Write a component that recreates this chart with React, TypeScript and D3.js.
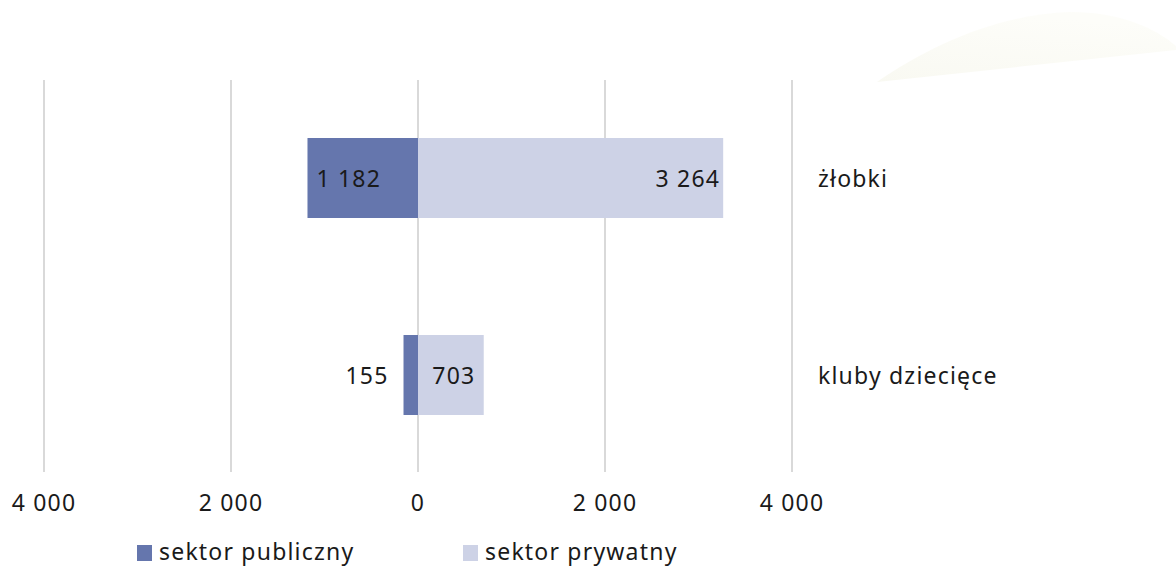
import React, { useRef, useEffect } from "react";
import * as d3 from "d3";

const categories = ["żłobki", "kluby dziecięce"];
const seriesNames = ["sektor publiczny", "sektor prywatny"];
const publicValues = [1182, 155];
const privateValues = [3264, 703];
const tickValues = [-4000, -2000, 0, 2000, 4000];
// where each value label sits relative to its bar
const publicLabelPos = ["insideEnd", "outsideEnd"];
const privateLabelPos = ["insideEnd", "center"];

const colors = ["#6576ad", "#cdd2e6"];
const FONT = "'Noto Sans', sans-serif";

export default function App() {
  const svgRef = useRef<SVGSVGElement>(null);

  useEffect(() => {
    const w = 1176;
    const h = 567;
    const svg = d3.select(svgRef.current).attr("width", w).attr("height", h);
    svg.selectAll("*").remove();

    // faint decorative leaf in the corner
    const grad = svg
      .append("defs")
      .append("linearGradient")
      .attr("id", "leaf")
      .attr("x1", 0)
      .attr("y1", 1)
      .attr("x2", 0.3)
      .attr("y2", 0);
    grad.append("stop").attr("offset", 0).attr("stop-color", "#f9f9f2");
    grad.append("stop").attr("offset", 1).attr("stop-color", "#fdfdf9");
    svg
      .append("path")
      .attr("d", "M877,82 C930,45 1000,14 1070,12 C1120,12 1155,28 1176,46 L1176,50 Z")
      .attr("fill", "url(#leaf)");

    const x = d3.scaleLinear().domain([-4000, 4000]).range([44, 792]);
    const y = d3
      .scaleBand()
      .domain(categories)
      .range([79.5, 473.5])
      .paddingInner(0.594)
      .paddingOuter(0.297);

    const fmt = d3.formatLocale({ thousands: " ", grouping: [3], decimal: ",", currency: ["", ""] }).format(",");

    const labelAttrs = (sel: any) =>
      sel
        .attr("dominant-baseline", "central")
        .attr("font-family", FONT)
        .attr("font-size", 23)
        .attr("letter-spacing", 1.2)
        .attr("fill", "#1a1a1a");

    // gridlines
    svg
      .append("g")
      .selectAll("line")
      .data(tickValues)
      .join("line")
      .attr("x1", (d) => x(d))
      .attr("x2", (d) => x(d))
      .attr("y1", 80)
      .attr("y2", 472)
      .attr("stroke", "#d9d9d9")
      .attr("stroke-width", 2);

    // tick labels
    svg
      .append("g")
      .selectAll("text")
      .data(tickValues)
      .join("text")
      .attr("x", (d) => x(d))
      .attr("y", 502)
      .attr("text-anchor", "middle")
      .call(labelAttrs)
      .text((d) => fmt(Math.abs(d)));

    const bw = y.bandwidth();

    // public sector bars (to the left)
    svg
      .append("g")
      .selectAll("rect")
      .data(categories)
      .join("rect")
      .attr("x", (d, i) => x(-publicValues[i]))
      .attr("y", (d) => y(d)!)
      .attr("width", (d, i) => x(0) - x(-publicValues[i]))
      .attr("height", bw)
      .attr("fill", colors[0]);

    // private sector bars (to the right)
    svg
      .append("g")
      .selectAll("rect")
      .data(categories)
      .join("rect")
      .attr("x", x(0))
      .attr("y", (d) => y(d)!)
      .attr("width", (d, i) => x(privateValues[i]) - x(0))
      .attr("height", bw)
      .attr("fill", colors[1]);

    svg
      .append("g")
      .selectAll("text")
      .data(categories)
      .join("text")
      .attr("x", (d, i) => {
        const end = x(-publicValues[i]);
        return publicLabelPos[i] === "insideEnd" ? end + 9 : end - 15;
      })
      .attr("y", (d) => y(d)! + bw / 2)
      .attr("text-anchor", (d, i) => (publicLabelPos[i] === "insideEnd" ? "start" : "end"))
      .call(labelAttrs)
      .text((d, i) => fmt(publicValues[i]));

    svg
      .append("g")
      .selectAll("text")
      .data(categories)
      .join("text")
      .attr("x", (d, i) => {
        const end = x(privateValues[i]);
        return privateLabelPos[i] === "insideEnd" ? end - 3 : (x(0) + end) / 2 + 3;
      })
      .attr("y", (d) => y(d)! + bw / 2)
      .attr("text-anchor", (d, i) => (privateLabelPos[i] === "insideEnd" ? "end" : "middle"))
      .call(labelAttrs)
      .text((d, i) => fmt(privateValues[i]));

    // category names on the right
    svg
      .append("g")
      .selectAll("text")
      .data(categories)
      .join("text")
      .attr("x", 818)
      .attr("y", (d) => y(d)! + bw / 2)
      .call(labelAttrs)
      .text((d) => d);

    // legend
    const legendX = [137, 463];
    const legend = svg
      .append("g")
      .selectAll("g")
      .data(seriesNames)
      .join("g")
      .attr("transform", (d, i) => `translate(${legendX[i]}, 551)`);
    legend
      .append("rect")
      .attr("x", 0)
      .attr("y", -6)
      .attr("width", 15)
      .attr("height", 16)
      .attr("fill", (d, i) => colors[i]);
    legend
      .append("text")
      .attr("x", 22)
      .attr("y", 0)
      .call(labelAttrs)
      .text((d) => d);
  }, []);

  return (
    <svg
      ref={svgRef}
      style={{ position: "absolute", left: 0, top: 0, background: "#ffffff" }}
    ></svg>
  );
}
